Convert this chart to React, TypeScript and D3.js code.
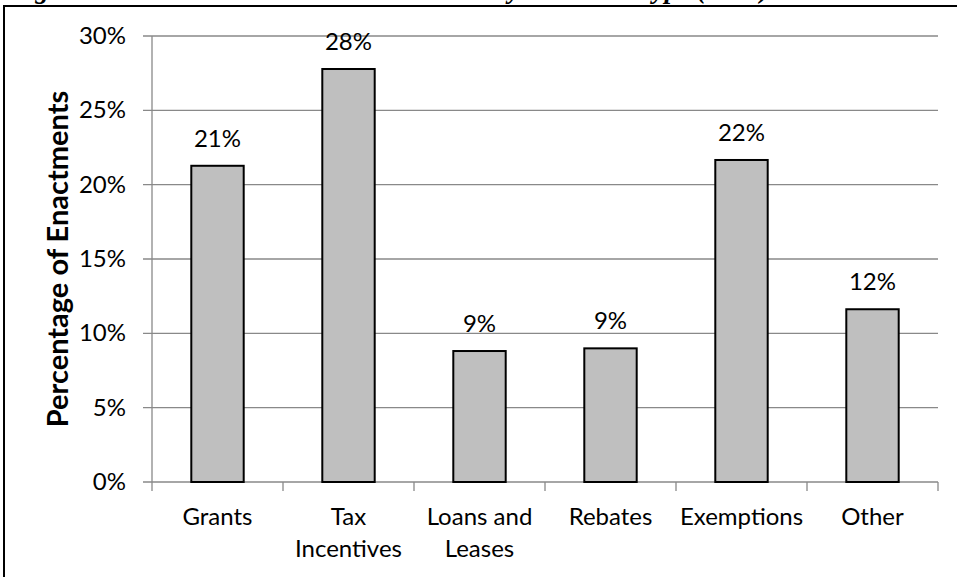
import React from "react";
import * as d3 from "d3";

const categories: string[][] = [
  ["Grants"],
  ["Tax", "Incentives"],
  ["Loans and", "Leases"],
  ["Rebates"],
  ["Exemptions"],
  ["Other"],
];
const values: number[] = [0.2127, 0.2778, 0.0881, 0.0899, 0.2166, 0.1162];
const valueLabels: string[] = ["21%", "28%", "9%", "9%", "22%", "12%"];
const yTicks: number[] = [0, 0.05, 0.1, 0.15, 0.2, 0.25, 0.3];
const yTitle = "Percentage of Enactments";
const title = "Figure 4: Enactments Across All the States by Incentive Type (2012)";

const W = 957;
const H = 577;
const FONT = "Lato, 'Open Sans', sans-serif";

export default function App() {
  const x = d3
    .scaleBand<number>()
    .domain(values.map((_, i) => i))
    .range([152, 938])
    .paddingInner(0.6)
    .paddingOuter(0.3);
  const y = d3.scaleLinear().domain([0, 0.3]).range([482, 36]);
  const fmt = d3.format(".0%");
  const step = x.step();
  const x0 = 152;
  const x1 = 938;
  const boundaries = d3.range(values.length + 1).map((i) => x0 + i * step);

  return (
    <svg
      width={W}
      height={H}
      style={{ position: "fixed", top: 0, left: 0, background: "#fff" }}
    >
      <rect x={0} y={0} width={W} height={H} fill="#fff" />
      <text
        x={10}
        y={-2.5}
        fontFamily="'Liberation Serif', 'Times New Roman', serif"
        fontWeight="bold"
        fontStyle="italic"
        fontSize={27}
        fill="#000"
      >
        {title}
      </text>
      <rect
        x={4}
        y={6}
        width={W + 20}
        height={H + 20}
        fill="none"
        stroke="#000"
        strokeWidth={2}
      />
      {/* gridlines */}
      {yTicks.map((t) => (
        <line
          key={t}
          x1={143}
          x2={x1}
          y1={y(t)}
          y2={y(t)}
          stroke="#898989"
          strokeWidth={1.3}
        />
      ))}
      {/* y axis */}
      <line x1={x0} x2={x0} y1={y(0.3)} y2={y(0)} stroke="#898989" strokeWidth={1.3} />
      {yTicks.map((t) => (
        <text
          key={"l" + t}
          x={126}
          y={y(t)}
          dy={8}
          textAnchor="end"
          fontFamily={FONT}
          fontSize={24}
          fill="#000"
        >
          {fmt(t)}
        </text>
      ))}
      {/* x ticks */}
      {boundaries.map((b, i) => (
        <line
          key={"t" + i}
          x1={b}
          x2={b}
          y1={y(0)}
          y2={y(0) + 9}
          stroke="#898989"
          strokeWidth={1.3}
        />
      ))}
      {/* bars */}
      {values.map((v, i) => (
        <rect
          key={"b" + i}
          x={x(i)!}
          y={y(v)}
          width={x.bandwidth()}
          height={y(0) - y(v)}
          fill="#bfbfbf"
          stroke="#000"
          strokeWidth={2}
        />
      ))}
      {/* value labels */}
      {values.map((v, i) => (
        <text
          key={"v" + i}
          x={x(i)! + x.bandwidth() / 2}
          y={y(v) - 19}
          textAnchor="middle"
          fontFamily={FONT}
          fontSize={24}
          fill="#000"
        >
          {valueLabels[i]}
        </text>
      ))}
      {/* category labels */}
      {categories.map((lines, i) => (
        <text
          key={"c" + i}
          x={x(i)! + x.bandwidth() / 2}
          y={525}
          textAnchor="middle"
          fontFamily={FONT}
          fontSize={24}
          fill="#000"
        >
          {lines.map((l, j) => (
            <tspan key={j} x={x(i)! + x.bandwidth() / 2} dy={j === 0 ? 0 : 32}>
              {l}
            </tspan>
          ))}
        </text>
      ))}
      {/* y title */}
      <text
        transform={`translate(68, ${(y(0) + y(0.3)) / 2}) rotate(-90)`}
        textAnchor="middle"
        fontFamily={FONT}
        fontWeight="bold"
        fontSize={29}
        fill="#000"
      >
        {yTitle}
      </text>
    </svg>
  );
}
